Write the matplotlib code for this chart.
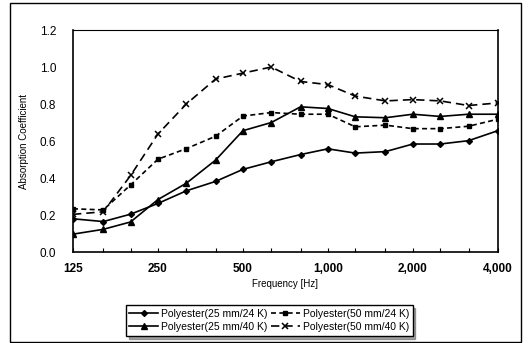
import matplotlib
matplotlib.use("Agg")
import matplotlib.pyplot as plt
from matplotlib.patches import Rectangle
from matplotlib.ticker import FixedLocator, NullFormatter

plt.rcParams["font.family"] = ["Liberation Sans", "DejaVu Sans"]

# 1/3 octave band centre frequencies
freqs = [125, 160, 200, 250, 315, 400, 500, 630, 800, 1000, 1250, 1600, 2000, 2500, 3150, 4000]

pe_25_24 = [0.18, 0.165, 0.205, 0.263, 0.331, 0.382, 0.447, 0.488, 0.527, 0.558,
            0.535, 0.543, 0.584, 0.584, 0.602, 0.656]
pe_25_40 = [0.097, 0.123, 0.163, 0.284, 0.372, 0.497, 0.656, 0.70, 0.785, 0.776,
            0.731, 0.726, 0.745, 0.733, 0.745, 0.745]
pe_50_24 = [0.234, 0.228, 0.363, 0.502, 0.559, 0.626, 0.735, 0.754, 0.745, 0.745,
            0.677, 0.686, 0.667, 0.667, 0.68, 0.718]
pe_50_40 = [0.204, 0.218, 0.414, 0.638, 0.80, 0.935, 0.967, 1.0, 0.922, 0.905,
            0.843, 0.817, 0.824, 0.817, 0.792, 0.806]

labels = ["Polyester(25 mm/24 K)", "Polyester(25 mm/40 K)",
          "Polyester(50 mm/24 K)", "Polyester(50 mm/40 K)"]

major_ticks = [125, 250, 500, 1000, 2000, 4000]
major_labels = ["125", "250", "500", "1,000", "2,000", "4,000"]
y_ticks = [0.0, 0.2, 0.4, 0.6, 0.8, 1.0, 1.2]
y_labels = ["0.0", "0.2", "0.4", "0.6", "0.8", "1.0", "1.2"]

fig = plt.figure(figsize=(5.29, 3.43), dpi=100)
ax = fig.add_axes([0.138, 0.265, 0.803, 0.6475])

h1, = ax.plot(freqs, pe_25_24, color="black", lw=1.2, marker="D", ms=3, label=labels[0])
h2, = ax.plot(freqs, pe_25_40, color="black", lw=1.2, marker="^", ms=4, label=labels[1])
h3, = ax.plot(freqs, pe_50_24, color="black", lw=1.2, ls=(0, (3, 2)), marker="s", ms=3.5,
              label=labels[2])
h4, = ax.plot(freqs, pe_50_40, color="black", lw=1.2, ls=(0, (5, 3)), marker="x", ms=4.5,
              mew=1.1, label=labels[3])

ax.set_xscale("log")
ax.set_xlim(125, 4000)
ax.set_ylim(0, 1.2)
ax.xaxis.set_major_locator(FixedLocator(major_ticks))
ax.set_xticklabels(major_labels, fontsize=8.5, fontweight="bold")
ax.xaxis.set_minor_locator(FixedLocator(freqs))
ax.xaxis.set_minor_formatter(NullFormatter())
ax.tick_params(axis="x", which="both", direction="in", length=3, width=0.8, pad=8)
ax.set_yticks(y_ticks)
ax.set_yticklabels(y_labels, fontsize=8.5)
ax.tick_params(axis="y", length=0, pad=12)

for s in ax.spines.values():
    s.set_linewidth(1.2)
ax.spines["top"].set_linewidth(0.8)

ax.set_xlabel("Frequency [Hz]", fontsize=7, labelpad=3)
ax.set_ylabel("Absorption Coefficient", fontsize=7, labelpad=8)

fig.legend(handles=[h1, h2, h3, h4], ncol=2, loc="upper left",
           bbox_to_anchor=(0.228, 0.125), fontsize=7.5, frameon=True, fancybox=False,
           shadow=True, edgecolor="black", handlelength=2.7, columnspacing=0.4,
           handletextpad=0.3, borderpad=0.35, labelspacing=0.3)

fig.patches.append(Rectangle((0.019, 0.003), 0.966, 0.988, transform=fig.transFigure,
                             fill=False, edgecolor="black", lw=1.0))

fig.savefig("out.png", dpi=100)
